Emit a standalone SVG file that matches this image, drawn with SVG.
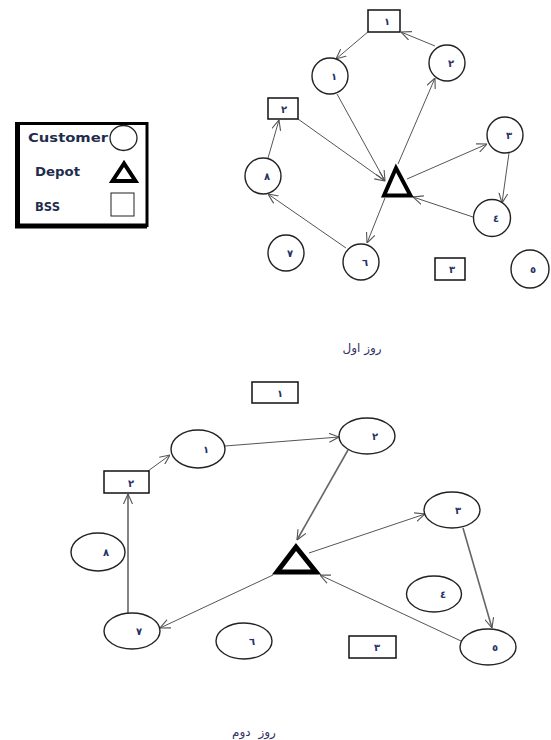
<svg xmlns="http://www.w3.org/2000/svg" width="551" height="740" viewBox="0 0 551 740">
<style>
.n{fill:#fff;stroke:#222;stroke-width:1.4}
.b{fill:#fff;stroke:#111;stroke-width:1.5}
.t{fill:none;stroke:#000;stroke-linejoin:miter}
.lb{font-family:"DejaVu Sans",sans-serif;font-weight:bold;font-size:10px;fill:#263266;text-anchor:middle}
.e{stroke:#555;stroke-width:1;fill:none;marker-end:url(#ah)}
.e2{stroke:#666;stroke-width:1.6;fill:none;marker-end:url(#ah)}
.lg{font-family:"DejaVu Sans",sans-serif;font-weight:bold;font-size:11.5px;fill:#1f2d4d}
.cap{font-family:"DejaVu Sans",sans-serif;font-size:12px;fill:#333366;text-anchor:middle}
</style>
<defs>
<marker id="ah" viewBox="0 0 10 10" refX="10" refY="5" markerWidth="10" markerHeight="10" markerUnits="userSpaceOnUse" orient="auto">
<path d="M0,0.5 L10,5 L0,9.5" fill="none" stroke="#555" stroke-width="1.1"/>
</marker>
</defs>
<rect width="551" height="740" fill="#fff"/>

<g id="legend">
<rect x="17.5" y="123.5" width="129.5" height="102" fill="#fff" stroke="#000" stroke-width="3"/>
<path d="M17.5,122 L17.5,226 L147,226" fill="none" stroke="#000" stroke-width="5"/>
<text class="lg" x="28" y="142" textLength="80" lengthAdjust="spacingAndGlyphs">Customer</text>
<ellipse cx="123.5" cy="138" rx="13.5" ry="12.5" fill="#fff" stroke="#222" stroke-width="1.3"/>
<text class="lg" x="35" y="176" textLength="45" lengthAdjust="spacingAndGlyphs">Depot</text>
<path class="t" d="M124,163.5 L112.5,181 L135.5,181 Z" stroke-width="4"/>
<text class="lg" x="35" y="211" textLength="25" lengthAdjust="spacingAndGlyphs">BSS</text>
<rect x="111" y="193" width="23" height="23" fill="#fff" stroke="#222" stroke-width="1"/>
</g>

<g id="connectors-day1">
<line class="e" x1="369" y1="31" x2="336" y2="59"/>
<line class="e" x1="435" y1="46" x2="401" y2="32"/>
<line class="e" x1="337" y1="94" x2="385" y2="181"/>
<line class="e" x1="298" y1="119" x2="385" y2="181"/>
<line class="e" x1="398" y1="164" x2="435" y2="78"/>
<line class="e" x1="268" y1="158" x2="279" y2="120"/>
<line class="e" x1="407" y1="179" x2="487" y2="144"/>
<line class="e" x1="509" y1="153" x2="502" y2="203"/>
<line class="e" x1="473" y1="217" x2="413" y2="197"/>
<line class="e" x1="385" y1="198" x2="367" y2="243"/>
<line class="e" x1="346" y1="248" x2="268" y2="194"/>
</g>

<g id="d1-b1"><rect class="b" x="368" y="10" width="32" height="22"/><text class="lb" x="387" y="25">١</text></g>
<g id="d1-c1"><circle class="n" cx="330" cy="76" r="18"/><text class="lb" x="334" y="80">١</text></g>
<g id="d1-c2"><circle class="n" cx="447" cy="63" r="18"/><text class="lb" x="451" y="67">٢</text></g>
<g id="d1-b2"><rect class="b" x="268" y="98" width="30" height="21"/><text class="lb" x="284" y="113">٢</text></g>
<g id="d1-c3"><circle class="n" cx="505" cy="135" r="18"/><text class="lb" x="509" y="139">٣</text></g>
<g id="d1-depot"><path class="t" d="M396,168 L384,195.5 L410.5,195.5 Z" stroke-width="4"/></g>
<g id="d1-c8"><circle class="n" cx="263" cy="176" r="18"/><text class="lb" x="267" y="180">٨</text></g>
<g id="d1-c4"><circle class="n" cx="492" cy="218" r="18.5"/><text class="lb" x="496" y="222">٤</text></g>
<g id="d1-c7"><circle class="n" cx="286" cy="253" r="18"/><text class="lb" x="290" y="257">٧</text></g>
<g id="d1-c6"><circle class="n" cx="361" cy="262" r="18"/><text class="lb" x="365" y="266">٦</text></g>
<g id="d1-b3"><rect class="b" x="435" y="258" width="30" height="22"/><text class="lb" x="452" y="273">٣</text></g>
<g id="d1-c5"><circle class="n" cx="530" cy="269" r="19"/><text class="lb" x="533" y="273">٥</text></g>

<text class="cap" x="362" y="352" letter-spacing="1">روز اول</text>

<g id="connectors-day2">
<line class="e" x1="148" y1="471" x2="170" y2="455"/>
<line class="e" x1="225" y1="446" x2="339" y2="437"/>
<line class="e2" x1="348" y1="450" x2="297" y2="540"/>
<line class="e" x1="309" y1="553" x2="425" y2="514"/>
<line class="e2" x1="463" y1="528" x2="492" y2="628"/>
<line class="e" x1="461" y1="641" x2="320" y2="575"/>
<line class="e" x1="273" y1="575" x2="160" y2="628"/>
<line class="e2" x1="128" y1="613" x2="128" y2="494"/>
</g>

<g id="d2-b1"><rect class="b" x="252" y="382" width="46" height="21"/><text class="lb" x="280" y="397">١</text></g>
<g id="d2-c1"><ellipse class="n" cx="198" cy="449" rx="27" ry="19"/><text class="lb" x="206" y="453">١</text></g>
<g id="d2-b2"><rect class="b" x="104" y="471" width="45" height="22"/><text class="lb" x="131" y="487">٢</text></g>
<g id="d2-c2"><ellipse class="n" cx="367" cy="436" rx="28" ry="18"/><text class="lb" x="375" y="440">٢</text></g>
<g id="d2-c3"><ellipse class="n" cx="452" cy="510" rx="28" ry="18"/><text class="lb" x="458" y="514">٣</text></g>
<g id="d2-depot"><path class="t" d="M296,547 L277,572 L316,572 Z" stroke-width="5"/></g>
<g id="d2-c8"><ellipse class="n" cx="98" cy="552" rx="27" ry="19"/><text class="lb" x="106" y="556">٨</text></g>
<g id="d2-c4"><ellipse class="n" cx="434" cy="594" rx="27.5" ry="18"/><text class="lb" x="443" y="598">٤</text></g>
<g id="d2-c7"><ellipse class="n" cx="132" cy="631" rx="28" ry="18"/><text class="lb" x="139" y="635">٧</text></g>
<g id="d2-c6"><ellipse class="n" cx="244" cy="641" rx="28" ry="18"/><text class="lb" x="252" y="645">٦</text></g>
<g id="d2-b3"><rect class="b" x="349" y="636" width="47" height="22"/><text class="lb" x="377" y="651">٣</text></g>
<g id="d2-c5"><ellipse class="n" cx="488" cy="647" rx="28" ry="18"/><text class="lb" x="495" y="651">٥</text></g>

<text class="cap" x="254" y="736" font-size="14" letter-spacing="4" word-spacing="4">روز دوم</text>
</svg>
